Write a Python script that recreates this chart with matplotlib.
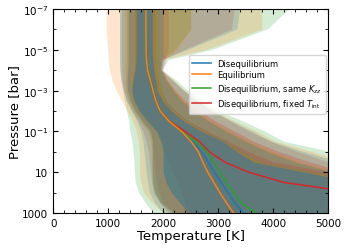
import matplotlib
matplotlib.use("Agg")
import matplotlib.pyplot as plt
import numpy as np
from matplotlib.ticker import NullFormatter

# log10 pressure grid [bar]
log_p = np.array([-7, -6, -5, -4.5, -4, -3.5, -3, -2.5, -2, -1.5, -1, -0.5, 0, 0.5, 1, 1.5, 2, 2.5, 3])

# median temperature profiles [K]
t_diseq = [1690, 1690, 1692, 1700, 1720, 1770, 1820, 1870, 1950, 2110, 2340, 2540, 2700, 2820, 2930, 3050, 3180, 3300, 3470]
t_equil = [1685, 1685, 1688, 1696, 1716, 1766, 1816, 1866, 1946, 2106, 2336, 2510, 2640, 2720, 2810, 2920, 3030, 3150, 3280]
t_kzz = [1690, 1690, 1692, 1700, 1720, 1770, 1820, 1866, 1946, 2106, 2336, 2600, 2800, 2920, 3030, 3150, 3280, 3420, 3690]
t_tint = [1690, 1690, 1692, 1700, 1720, 1770, 1820, 1870, 1950, 2120, 2400, 2660, 2840, 3120, 3560, 4200, 5500, 6500, 7500]

# envelopes [K]: 1 = inner, 2 = middle, 3 = outer
diseq_lo1 = [1510, 1510, 1510, 1505, 1490, 1450, 1430, 1470, 1570, 1720, 1880, 1960, 2000, 2000, 2000, 2050, 2150, 2300, 2450]
diseq_hi1 = [1800, 1800, 1800, 1810, 1830, 1860, 1890, 1990, 2150, 2380, 2700, 3090, 3350, 3650, 4600, 5500, 6200, 6800, 7300]
diseq_lo2 = [1360, 1360, 1360, 1360, 1350, 1340, 1350, 1400, 1490, 1620, 1760, 1800, 1800, 1800, 1800, 1810, 1850, 1950, 2200]
diseq_hi2 = [2000, 2000, 2000, 2000, 1980, 2050, 2180, 2330, 2550, 2820, 3150, 3500, 3900, 4400, 5100, 5800, 6400, 7000, 7500]
diseq_lo3 = [1215, 1215, 1215, 1215, 1220, 1240, 1280, 1340, 1430, 1530, 1600, 1640, 1660, 1680, 1700, 1720, 1760, 1850, 2000]
diseq_hi3 = [3400, 3350, 2450, 1990, 1960, 2180, 2380, 2620, 2900, 3250, 3620, 3980, 4550, 5200, 6000, 6800, 7400, 8000, 8500]

equil_lo1 = [1450, 1450, 1450, 1450, 1440, 1420, 1420, 1460, 1560, 1710, 1870, 1950, 1990, 2000, 2000, 2040, 2130, 2280, 2400]
equil_hi1 = [1900, 1900, 1900, 1900, 1910, 1930, 1960, 2040, 2200, 2430, 2750, 3100, 3400, 3750, 4700, 5600, 6300, 7000, 7500]
equil_lo2 = [1300, 1300, 1300, 1300, 1300, 1300, 1320, 1380, 1470, 1600, 1740, 1780, 1790, 1790, 1790, 1800, 1830, 1950, 2200]
equil_hi2 = [2500, 2500, 2250, 1980, 1960, 2080, 2220, 2380, 2600, 2880, 3220, 3580, 4000, 4500, 5200, 5900, 6500, 7100, 7600]
equil_lo3 = [970, 970, 1000, 1010, 1030, 1080, 1150, 1250, 1350, 1450, 1520, 1560, 1575, 1580, 1580, 1600, 1650, 1800, 2000]
equil_hi3 = [3800, 3800, 2800, 2000, 1970, 2200, 2400, 2650, 2920, 3300, 3700, 4050, 4700, 5300, 6500, 7000, 7500, 8000, 8500]

kzz_lo1 = [1470, 1470, 1470, 1470, 1460, 1430, 1420, 1460, 1560, 1710, 1870, 1950, 2000, 2000, 2010, 2060, 2160, 2320, 2500]
kzz_hi1 = [1920, 1920, 1920, 1920, 1930, 1950, 1980, 2060, 2220, 2450, 2780, 3150, 3450, 3800, 4800, 5700, 6400, 7000, 7500]
kzz_lo2 = [1330, 1330, 1330, 1330, 1320, 1310, 1320, 1370, 1460, 1590, 1730, 1780, 1800, 1800, 1800, 1810, 1840, 1950, 2150]
kzz_hi2 = [2500, 2500, 2200, 1950, 1950, 2060, 2200, 2360, 2580, 2860, 3200, 3550, 3950, 4450, 5150, 5800, 6400, 7000, 7500]
kzz_lo3 = [1215, 1215, 1215, 1215, 1220, 1240, 1270, 1300, 1340, 1380, 1400, 1440, 1460, 1475, 1485, 1500, 1560, 1680, 1820]
kzz_hi3 = [4300, 3900, 2900, 2100, 1990, 2240, 2450, 2720, 3000, 3450, 3850, 4200, 5050, 6000, 7000, 7500, 8000, 8500, 9000]

tint_lo1 = [1490, 1490, 1490, 1490, 1480, 1450, 1440, 1480, 1580, 1730, 1900, 1980, 2040, 2100, 2180, 2260, 2340, 2400, 2450]
tint_hi1 = [1880, 1880, 1880, 1880, 1890, 1920, 1960, 2050, 2220, 2460, 2800, 3200, 3550, 4000, 5000, 6000, 7000, 7500, 8000]
tint_lo2 = [1380, 1380, 1380, 1380, 1370, 1360, 1370, 1420, 1510, 1640, 1780, 1820, 1830, 1840, 1860, 1890, 1930, 2000, 2200]
tint_hi2 = [2100, 2100, 2100, 2050, 2000, 2080, 2220, 2400, 2650, 2950, 3300, 3650, 4100, 4650, 5300, 6000, 6600, 7200, 7800]
tint_lo3 = [1250, 1250, 1250, 1250, 1250, 1260, 1290, 1340, 1430, 1550, 1640, 1700, 1740, 1760, 1780, 1800, 1840, 1950, 2100]
tint_hi3 = [3300, 3250, 2400, 1990, 1960, 2170, 2370, 2600, 2880, 3220, 3560, 3950, 4450, 5000, 5600, 6200, 6800, 7300, 7800]

labels = ["Disequilibrium", "Equilibrium", r"Disequilibrium, same $K_{zz}$", r"Disequilibrium, fixed $T_{\rm int}$"]
colors = ["C0", "C1", "C2", "C3"]

profiles = [t_diseq, t_equil, t_kzz, t_tint]
inner = [(diseq_lo1, diseq_hi1), (equil_lo1, equil_hi1), (kzz_lo1, kzz_hi1), (tint_lo1, tint_hi1)]
middle = [(diseq_lo2, diseq_hi2), (equil_lo2, equil_hi2), (kzz_lo2, kzz_hi2), (tint_lo2, tint_hi2)]
outer = [(diseq_lo3, diseq_hi3), (equil_lo3, equil_hi3), (kzz_lo3, kzz_hi3), (tint_lo3, tint_hi3)]

pressure = 10.0 ** log_p

fig = plt.figure(figsize=(3.48, 2.51), dpi=100)
ax = fig.add_axes([0.153, 0.147, 0.790, 0.813])

# widest envelopes first, disequilibrium drawn last in each layer
for bands, a in [(outer, 0.2), (middle, 0.22), (inner, 0.22)]:
    for (lo, hi), c in list(zip(bands, colors))[::-1]:
        ax.fill_betweenx(pressure, lo, hi, color=c, alpha=a, lw=0)
ax.fill_betweenx(pressure, diseq_lo1, diseq_hi1, color="C0", alpha=0.35, lw=0)

# line order: diseq, fixed Tint, same Kzz, then equilibrium on top
handles = {}
for i in [0, 3, 2, 1]:
    handles[labels[i]], = ax.plot(profiles[i], pressure, color=colors[i], lw=1.1)

ax.set_yscale("log")
ax.set_xlim(0, 5000)
ax.set_ylim(1e3, 1e-7)
ax.set_yticks([1e-7, 1e-5, 1e-3, 1e-1, 1e1, 1e3])
ax.set_yticklabels([r"$10^{-7}$", r"$10^{-5}$", r"$10^{-3}$", r"$10^{-1}$", "10", "1000"])
ax.set_yticks([1e-6, 1e-4, 1e-2, 1e0, 1e2], minor=True)
ax.yaxis.set_minor_formatter(NullFormatter())
ax.set_xticks([0, 1000, 2000, 3000, 4000, 5000])
ax.set_xticks(np.arange(0, 5001, 200), minor=True)
ax.tick_params(which="both", direction="in", top=True, right=True, labelsize=7.5)
ax.tick_params(which="major", length=3.5)
ax.tick_params(which="minor", length=2)

ax.set_xlabel("Temperature [K]", fontsize=9.5, labelpad=1)
ax.set_ylabel("Pressure [bar]", fontsize=9.5, labelpad=1)

ax.legend([handles[l] for l in labels], labels, loc="upper right", bbox_to_anchor=(1.0, 0.785),
          fontsize=6, handlelength=2.2, framealpha=0.8, borderpad=0.45, labelspacing=0.3,
          borderaxespad=0.25)

fig.savefig("out.png", dpi=100)
